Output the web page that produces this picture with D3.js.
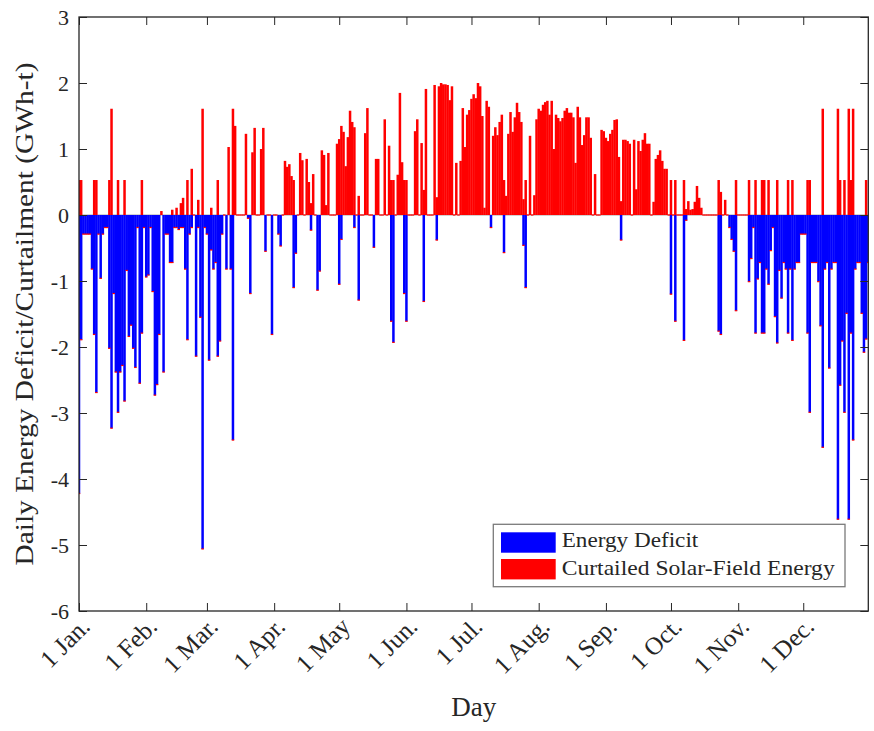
<!DOCTYPE html>
<html>
<head>
<meta charset="utf-8">
<script src="https://cdn.jsdelivr.net/npm/d3@7/dist/d3.min.js"></script>
<style>
  body { margin: 0; background: #fff; }
  svg text { font-family: 'Liberation Serif', 'Times New Roman', serif; fill: #262626; }
</style>
</head>
<body>
<div id="chart"></div>
<script>
// first day of each month (day of year) and its label
const monthStarts = [1, 32, 60, 91, 121, 152, 182, 213, 244, 274, 305, 335]
const monthLabels = ['1 Jan.', '1 Feb.', '1 Mar.', '1 Apr.', '1 May', '1 Jun.', '1 Jul.', '1 Aug.', '1 Sep.', '1 Oct.', '1 Nov.', '1 Dec.']
const yTicks = [-6, -5, -4, -3, -2, -1, 0, 1, 2, 3]
const legendLabels = ['Energy Deficit', 'Curtailed Solar-Field Energy']

// daily energy deficit (GWh-t), one line per month
const deficit = [
  -4.22, -1.89, -0.29, -0.29, -0.29, -0.29, -0.82, -1.81, -2.69, -0.29, -0.96, -0.29, -0.19, -0.19, -2.02, -3.23, -1.19, -2.38, -2.99, -2.38, -2.28, -2.82, -0.84, -1.84, -1.67, -2.02, -2.31, -0.19, -2.55, -1.79, -0.19,
  -0.94, -0.91, -0.19, -1.16, -2.73, -2.57, -1.81, 0, -2.38, -0.29, -0.29, -0.72, -0.72, -0.19, -0.19, -0.22, -0.19, -0.19, -0.82, -1.89, -0.29, -0.19, 0, -2.14, -0.19, -1.55, -5.06, -0.19,
  -0.29, -2.2, -0.53, -0.82, -0.72, -2.14, -1.91, -0.29, 0, -0.82, 0, -0.82, -3.41, 0, 0, 0, 0, 0, 0, -0.05, -1.19, 0, 0, 0, 0, 0, 0, -0.55, 0, 0, -1.81,
  0, 0, -0.29, -0.47, 0, 0, 0, 0, 0, -1.1, -0.58, 0, 0, 0, 0, 0, 0, -0.23, 0, 0, -1.14, -0.85, 0, 0, 0, 0, 0, 0, 0, 0,
  -1.05, -0.37, 0, 0, 0, 0, 0, -0.19, 0, -1.29, 0, 0, 0, 0, 0, 0, -0.49, 0, 0, 0, 0, 0, 0, 0, -1.61, -1.93, 0, 0, 0, 0, -1.19,
  -1.61, 0, 0, 0, 0, 0, 0, 0, -1.31, 0, 0, 0, 0, 0, -0.38, 0, 0, 0, 0, 0, 0, 0, 0, 0, 0, 0, 0, 0, 0, 0,
  0, 0, 0, 0, 0, 0, 0, 0, 0, -0.19, 0, 0, 0, 0, 0, -0.57, 0, 0, 0, 0, 0, 0, 0, 0, -0.46, -1.1, 0, 0, 0, 0, 0,
  0, 0, 0, 0, 0, 0, 0, 0, 0, 0, 0, 0, 0, 0, 0, 0, 0, 0, 0, 0, 0, 0, 0, 0, 0, 0, 0, 0, 0, 0, 0,
  0, 0, 0, 0, 0, 0, 0, -0.38, 0, 0, 0, 0, 0, 0, 0, 0, 0, 0, 0, 0, 0, 0, 0, 0, 0, 0, 0, 0, 0, 0,
  -1.2, 0, -1.61, 0, 0, 0, -1.9, -0.08, 0, 0, 0, 0, 0, 0, 0, 0, 0, 0, 0, 0, 0, 0, -1.76, -1.81, 0, 0, 0, -0.19, -0.37, -0.55, -1.45,
  0, 0, 0, 0, 0, -1.01, -0.66, -0.19, -1.79, -0.97, -0.72, -1.79, -1.79, -0.82, -1.05, -0.54, -0.19, -1.54, -1.94, -0.84, -1.26, -0.72, -0.82, -1.79, -0.82, -1.9, -0.82, -0.72, -0.72, -0.29,
  -0.29, -0.29, -1.79, -2.99, -0.72, -0.72, -0.72, -1.01, -1.68, -3.52, -0.82, -0.72, -2.32, -0.82, -0.72, -0.72, -4.61, -2.58, -1.91, -2.99, -1.49, -4.61, -1.79, -3.41, -0.82, -0.72, -0.72, -1.49, -2.08, -1.88, -0.72
]

// daily curtailed solar-field energy (GWh-t), one line per month
const curtailed = [
  0.53, 0.53, 0, 0, 0, 0, 0, 0.53, 0.53, 0, 0, 0, 0, 0, 0.53, 1.61, 0, 0, 0.53, 0, 0, 0.53, 0, 0, 0, 0, 0, 0, 0, 0.53, 0,
  0, 0, 0, 0, 0, 0, 0, 0.06, 0, 0, 0, 0, 0.08, 0, 0.11, 0, 0.18, 0.26, 0, 0.53, 0, 0.7, 0, 0, 0.23, 0, 1.61, 0,
  0, 0, 0.11, 0, 0, 0.53, 0, 0, 0, 0, 1.03, 0, 1.61, 1.35, 0, 0, 0, 0, 1.23, 0, 0, 0.95, 1.32, 0, 0, 1.0, 1.32, 0, 0, 0, 0,
  0, 0, 0, 0, 0, 0.82, 0.73, 0.77, 0.59, 0.53, 0, 0, 0.94, 0.83, 0, 0.85, 0.5, 0.18, 0.62, 0, 0, 0, 0.98, 0.91, 0.15, 0.94, 0, 0, 0, 1.08,
  1.15, 1.35, 1.26, 0.74, 1.18, 1.58, 1.41, 1.33, 0, 0.29, 0, 0, 1.24, 1.62, 0, 0, 0, 0.85, 0.85, 0, 0, 1.45, 0, 1.05, 0.53, 0.53, 0, 0.61, 1.85, 0.8, 0.53,
  0.53, 0, 0, 0, 1.27, 1.45, 0, 1.09, 0.38, 1.91, 0, 0, 0, 1.97, 0.27, 1.95, 2.0, 1.98, 1.98, 1.97, 1.74, 1.95, 0, 0.79, 0, 0.82, 1.62, 1.03, 1.52, 1.59,
  1.76, 1.83, 1.77, 2.0, 1.95, 1.5, 0.11, 1.73, 1.64, 0, 1.2, 1.33, 1.21, 1.41, 1.52, 0.53, 0.29, 1.23, 1.56, 1.26, 1.48, 1.7, 1.56, 1.41, 0.24, 0.53, 0, 1.2, 0, 0.3, 1.45,
  1.61, 1.58, 1.67, 1.71, 1.73, 1.52, 1.73, 1.0, 1.52, 1.47, 1.42, 1.47, 1.58, 1.62, 1.55, 1.55, 1.48, 0.79, 1.64, 1.48, 1.06, 1.21, 1.48, 1.48, 1.17, 0, 0.62, 0, 0, 1.29, 1.27,
  1.17, 1.12, 1.23, 1.29, 1.44, 1.45, 0.88, 0.21, 1.14, 1.14, 1.12, 1.08, 0, 1.14, 0.39, 1.12, 0.97, 1.14, 1.24, 1.08, 1.08, 0, 0.2, 0.85, 0.91, 0.98, 0.82, 0.7, 0.7, 0,
  0.53, 0, 0.53, 0, 0, 0, 0.53, 0.09, 0.21, 0.08, 0.09, 0.2, 0.44, 0.26, 0.11, 0, 0, 0, 0, 0, 0, 0, 0.53, 0.35, 0, 0.23, 0, 0, 0, 0, 0.53,
  0, 0, 0, 0, 0, 0.53, 0, 0, 0.53, 0, 0, 0.53, 0.53, 0, 0.53, 0, 0, 0, 0.53, 0, 0, 0, 0, 0.53, 0, 0.53, 0, 0, 0, 0,
  0, 0, 0.53, 0.53, 0, 0, 0, 0, 0, 1.61, 0, 0, 0, 0, 0, 0, 1.61, 0.53, 0, 0.53, 0, 1.61, 0.53, 1.61, 0, 0, 0, 0, 0, 0.53, 0
]

const width = 874
const height = 731
const plot = { left: 79, right: 868.3, top: 17, bottom: 611 }
const axisColor = '#262626'

/**
 * Builds the svg canvas.
 */
function initSvg () {
  return d3.select('#chart')
    .append('svg')
    .attr('width', width)
    .attr('height', height)
    .style('background', '#fff')
}

/**
 * Draws the daily bars, deficits below zero and curtailment above.
 */
function drawBars (svg, x, y) {
  const barWidth = 2.5
  const days = d3.range(1, deficit.length + 1)

  svg.append('clipPath')
    .attr('id', 'plot-clip')
    .append('rect')
    .attr('x', plot.left)
    .attr('y', plot.top)
    .attr('width', plot.right - plot.left)
    .attr('height', plot.bottom - plot.top)

  const g = svg.append('g')
    .attr('clip-path', 'url(#plot-clip)')

  // bar baseline
  g.append('line')
    .attr('x1', plot.left)
    .attr('x2', plot.right)
    .attr('y1', y(0))
    .attr('y2', y(0))
    .attr('stroke', '#a6a6a6')
    .attr('stroke-width', 1.2)

  g.selectAll('rect.deficit')
    .data(days.filter(d => deficit[d - 1] < 0))
    .enter()
    .append('rect')
    .attr('class', 'deficit')
    .attr('x', d => x(d) - barWidth / 2)
    .attr('y', y(0))
    .attr('width', barWidth)
    .attr('height', d => y(deficit[d - 1]) - y(0))
    .attr('fill', '#0000ff')

  g.selectAll('rect.curtailed')
    .data(days.filter(d => curtailed[d - 1] > 0))
    .enter()
    .append('rect')
    .attr('class', 'curtailed')
    .attr('x', d => x(d) - barWidth / 2)
    .attr('y', d => y(curtailed[d - 1]))
    .attr('width', barWidth)
    .attr('height', d => y(0) - y(curtailed[d - 1]))
    .attr('fill', '#ff0000')

  // zero-height curtailment bars show as a red edge at the end of the stack
  g.selectAll('rect.edge')
    .data(days.filter(d => deficit[d - 1] < 0 || curtailed[d - 1] === 0))
    .enter()
    .append('rect')
    .attr('class', 'edge')
    .attr('x', d => x(d) - barWidth / 2)
    .attr('y', d => y(deficit[d - 1]) - 0.6)
    .attr('width', barWidth)
    .attr('height', 1.2)
    .attr('fill', '#ff0000')
}

/**
 * Draws the box, the inward ticks and the tick labels.
 */
function drawAxes (svg, x, y) {
  const tickLen = 8

  const left = svg.append('g')
    .attr('transform', `translate(${plot.left},0)`)
    .call(d3.axisLeft(y).tickValues(yTicks).tickSize(-tickLen).tickPadding(10).tickFormat(d => String(d)))
  const right = svg.append('g')
    .attr('transform', `translate(${plot.right},0)`)
    .call(d3.axisRight(y).tickValues(yTicks).tickSize(-tickLen).tickFormat(''))
  const bottom = svg.append('g')
    .attr('transform', `translate(0,${plot.bottom})`)
    .call(d3.axisBottom(x).tickValues(monthStarts).tickSize(-tickLen).tickFormat((d, i) => monthLabels[i]))
  const top = svg.append('g')
    .attr('transform', `translate(0,${plot.top})`)
    .call(d3.axisTop(x).tickValues(monthStarts).tickSize(-tickLen).tickFormat(''))

  ;[left, right, bottom, top].forEach(a => {
    a.select('.domain').remove()
    a.selectAll('.tick line').attr('stroke', axisColor).attr('stroke-width', 1)
  })

  left.selectAll('.tick text')
    .attr('fill', axisColor)
    .style('font-size', '22px')
    .attr('dy', '0.34em')

  bottom.selectAll('.tick text')
    .attr('fill', axisColor)
    .style('font-size', '25px')
    .attr('text-anchor', 'end')
    .attr('x', 0)
    .attr('y', 0)
    .attr('dy', 0)
    .attr('transform', 'translate(12,17) rotate(-45)')

  svg.append('rect')
    .attr('x', plot.left)
    .attr('y', plot.top)
    .attr('width', plot.right - plot.left)
    .attr('height', plot.bottom - plot.top)
    .attr('fill', 'none')
    .attr('stroke', axisColor)
    .attr('stroke-width', 1.3)
}

/**
 * Adds the axis titles.
 */
function drawTitles (svg) {
  svg.append('text')
    .attr('transform', `translate(33,${(plot.top + plot.bottom) / 2}) rotate(-90)`)
    .attr('text-anchor', 'middle')
    .attr('textLength', 503)
    .attr('lengthAdjust', 'spacingAndGlyphs')
    .style('font-size', '26px')
    .text('Daily Energy Deficit/Curtailment (GWh-t)')

  svg.append('text')
    .attr('x', (plot.left + plot.right) / 2)
    .attr('y', 716)
    .attr('text-anchor', 'middle')
    .style('font-size', '27px')
    .text('Day')
}

/**
 * Draws the legend box in the lower right corner.
 */
function drawLegend (svg) {
  const colors = ['#0000ff', '#ff0000']
  const textLengths = [136.6, 273]
  const g = svg.append('g')

  g.append('rect')
    .attr('x', 493.3)
    .attr('y', 524.3)
    .attr('width', 351.7)
    .attr('height', 62.4)
    .attr('fill', '#fff')
    .attr('stroke', '#7a7a7a')
    .attr('stroke-width', 1.3)

  legendLabels.forEach((label, i) => {
    g.append('rect')
      .attr('x', 501)
      .attr('y', 532.3 + i * 26.7)
      .attr('width', 54.7)
      .attr('height', 20.4)
      .attr('fill', colors[i])
    g.append('text')
      .attr('x', 561.7)
      .attr('y', 547.3 + i * 27.7)
      .attr('textLength', textLengths[i])
      .attr('lengthAdjust', 'spacingAndGlyphs')
      .style('font-size', '22px')
      .text(label)
  })
}

const x = d3.scaleLinear().domain([1, 365]).range([plot.left, plot.right])
const y = d3.scaleLinear().domain([-6, 3]).range([plot.bottom, plot.top])

const svg = initSvg()
drawBars(svg, x, y)
drawAxes(svg, x, y)
drawTitles(svg)
drawLegend(svg)
</script>
</body>
</html>
